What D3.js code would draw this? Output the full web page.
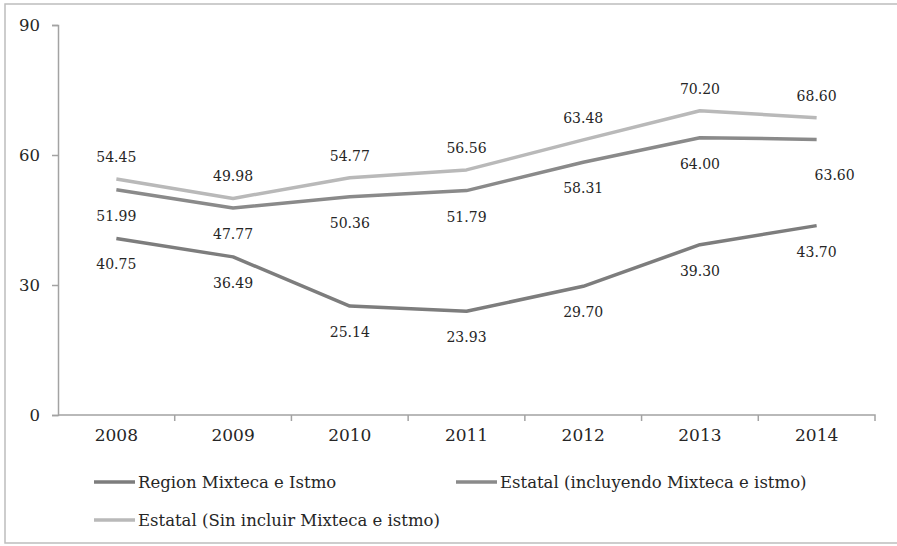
<!DOCTYPE html>
<html>
<head>
<meta charset="utf-8">
<script src="https://cdn.jsdelivr.net/npm/d3@7"></script>
<style>
  html, body { margin: 0; padding: 0; background: #fff; }
  svg { display: block; }
  text { font-family: "DejaVu Serif", serif; fill: #262626; }
</style>
</head>
<body>
<svg id="chart" width="897" height="546"></svg>
<script>
const years = ["2008", "2009", "2010", "2011", "2012", "2013", "2014"];
const regionMixteca = [40.75, 36.49, 25.14, 23.93, 29.70, 39.30, 43.70];
const estatalIncluyendo = [51.99, 47.77, 50.36, 51.79, 58.31, 64.00, 63.60];
const estatalSinIncluir = [54.45, 49.98, 54.77, 56.56, 63.48, 70.20, 68.60];
const seriesNames = ["Region Mixteca e Istmo", "Estatal (incluyendo Mixteca e istmo)", "Estatal (Sin incluir Mixteca e istmo)"];
const yTicks = [0, 30, 60, 90];

const series = [
  { name: seriesNames[0], values: regionMixteca, color: "#7d7d7d", above: false },
  { name: seriesNames[1], values: estatalIncluyendo, color: "#8a8a8a", above: false },
  { name: seriesNames[2], values: estatalSinIncluir, color: "#b9b9b9", above: true }
];

const svg = d3.select("#chart");
const W = 897, H = 546;
const m = { left: 58, right: 22, top: 25, bottom: 131 };

// outer frame
svg.append("rect")
  .attr("x", 5).attr("y", 4)
  .attr("width", W + 10).attr("height", H - 4 - 3)
  .attr("fill", "none").attr("stroke", "#bdbdbd").attr("stroke-width", 1.5);

const x = d3.scaleBand().domain(years).range([m.left, W - m.right]);
const y = d3.scaleLinear().domain([0, 90]).range([H - m.bottom, m.top]);

const axisColor = "#a3a3a3";

// y axis
const yAxis = svg.append("g").attr("transform", `translate(${m.left},0)`)
  .call(d3.axisLeft(y).tickValues(yTicks).tickSize(6).tickPadding(12));
yAxis.select(".domain").attr("stroke", axisColor).attr("stroke-width", 1.5);
yAxis.selectAll(".tick line").attr("stroke", axisColor).attr("stroke-width", 1.5);
yAxis.selectAll(".tick text").style("font-size", "16.5px").attr("fill", "#262626");

// x axis
const xAxis = svg.append("g").attr("transform", `translate(0,${y(0)})`)
  .call(d3.axisBottom(x).tickSize(0).tickPadding(10));
xAxis.select(".domain").attr("stroke", axisColor).attr("stroke-width", 1.5)
  .attr("d", `M${m.left},0H${W - m.right}V6`);
xAxis.selectAll(".tick text").style("font-size", "17px").attr("fill", "#262626").attr("dy", "0.95em");
// ticks at band boundaries
svg.append("g").selectAll("line")
  .data(years.slice(1))
  .join("line")
  .attr("x1", d => x(d)).attr("x2", d => x(d))
  .attr("y1", y(0)).attr("y2", y(0) + 6)
  .attr("stroke", axisColor).attr("stroke-width", 1.5);

const cx = d => x(d) + x.bandwidth() / 2;
const line = d3.line().x((d, i) => cx(years[i])).y(d => y(d));

series.forEach(s => {
  svg.append("path")
    .datum(s.values)
    .attr("d", line)
    .attr("fill", "none")
    .attr("stroke", s.color)
    .attr("stroke-width", 3.5)
    .attr("stroke-linejoin", "round");
});

// data labels
series.forEach((s, si) => {
  svg.append("g").selectAll("text")
    .data(s.values)
    .join("text")
    .attr("x", (d, i) => cx(years[i]) + (si === 1 && i === years.length - 1 ? 18 : 0))
    .attr("y", (d, i) => {
      if (s.above) return y(d) - 22;
      if (si === 1 && i === years.length - 1) return y(d) + 36;
      return y(d) + 26;
    })
    .attr("text-anchor", "middle")
    .attr("dominant-baseline", "central")
    .style("font-size", "14px")
    .text(d => d.toFixed(2));
});

// legend
const legendItems = [
  { s: series[0], lx: 94, ly: 482 },
  { s: series[1], lx: 456, ly: 482 },
  { s: series[2], lx: 94, ly: 520 }
];
const lg = svg.append("g").selectAll("g").data(legendItems).join("g")
  .attr("transform", d => `translate(${d.lx},${d.ly})`);
lg.append("line").attr("x1", 0).attr("x2", 41).attr("y1", 0).attr("y2", 0)
  .attr("stroke", d => d.s.color).attr("stroke-width", 3.5);
lg.append("text").attr("x", 44).attr("y", 0).attr("dominant-baseline", "central")
  .style("font-size", "16.5px").text(d => d.s.name);
</script>
</body>
</html>
